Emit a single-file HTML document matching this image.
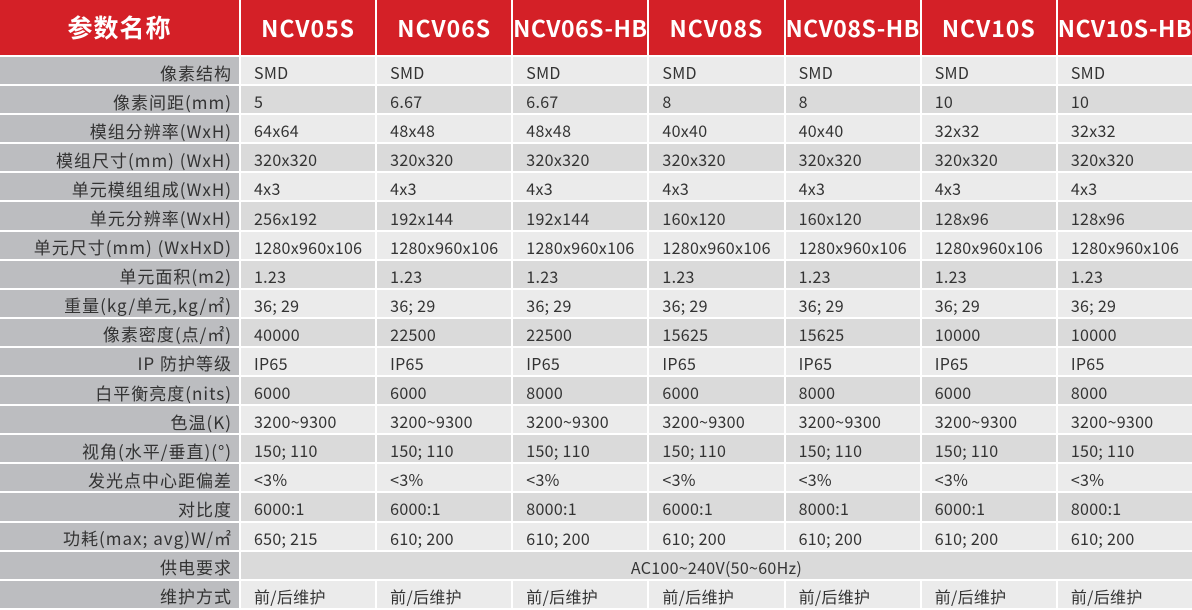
<!DOCTYPE html>
<html><head><meta charset="utf-8">
<style>
html,body{margin:0;padding:0;background:#fff;width:1192px;height:610px;overflow:hidden}
.g{display:grid;grid-template-columns:239px repeat(7,1fr);grid-template-rows:55px repeat(19,27.1px);gap:2px;width:1192px;background:#fff;font-family:"Noto Sans CJK SC","Liberation Sans",sans-serif}
.g>div{display:flex;align-items:center;white-space:nowrap;overflow:hidden;line-height:1;color:#333;font-size:16px;letter-spacing:0.3px;padding-top:3px;box-sizing:border-box}
.g>div.h{background:#d42027;color:#fff;font-size:23px;font-weight:bold;justify-content:center;letter-spacing:1px;padding-top:0}
.g>div.h.t{letter-spacing:0.5px}
.g>div.l{background:#bcbdc0;justify-content:flex-end;padding-right:7px;font-size:17px;letter-spacing:1px}
.a{background:#ebebeb;padding-left:13px}
.b{background:#dadada;padding-left:13px}
.g>div.c{grid-column:2 / 9;justify-content:center;padding-left:0}
</style></head><body>
<div class="g">
<div class="h" style="font-size:25px">参数名称</div><div class="h">NCV05S</div><div class="h">NCV06S</div><div class="h t">NCV06S-HB</div><div class="h">NCV08S</div><div class="h t">NCV08S-HB</div><div class="h">NCV10S</div><div class="h t">NCV10S-HB</div>
<div class="l">像素结构</div><div class="a">SMD</div><div class="a">SMD</div><div class="a">SMD</div><div class="a">SMD</div><div class="a">SMD</div><div class="a">SMD</div><div class="a">SMD</div>
<div class="l">像素间距(mm)</div><div class="b">5</div><div class="b">6.67</div><div class="b">6.67</div><div class="b">8</div><div class="b">8</div><div class="b">10</div><div class="b">10</div>
<div class="l">模组分辨率(WxH)</div><div class="a">64x64</div><div class="a">48x48</div><div class="a">48x48</div><div class="a">40x40</div><div class="a">40x40</div><div class="a">32x32</div><div class="a">32x32</div>
<div class="l">模组尺寸(mm) (WxH)</div><div class="b">320x320</div><div class="b">320x320</div><div class="b">320x320</div><div class="b">320x320</div><div class="b">320x320</div><div class="b">320x320</div><div class="b">320x320</div>
<div class="l">单元模组组成(WxH)</div><div class="a">4x3</div><div class="a">4x3</div><div class="a">4x3</div><div class="a">4x3</div><div class="a">4x3</div><div class="a">4x3</div><div class="a">4x3</div>
<div class="l">单元分辨率(WxH)</div><div class="b">256x192</div><div class="b">192x144</div><div class="b">192x144</div><div class="b">160x120</div><div class="b">160x120</div><div class="b">128x96</div><div class="b">128x96</div>
<div class="l">单元尺寸(mm) (WxHxD)</div><div class="a">1280x960x106</div><div class="a">1280x960x106</div><div class="a">1280x960x106</div><div class="a">1280x960x106</div><div class="a">1280x960x106</div><div class="a">1280x960x106</div><div class="a">1280x960x106</div>
<div class="l">单元面积(m2)</div><div class="b">1.23</div><div class="b">1.23</div><div class="b">1.23</div><div class="b">1.23</div><div class="b">1.23</div><div class="b">1.23</div><div class="b">1.23</div>
<div class="l">重量(kg/单元,kg/㎡)</div><div class="a">36; 29</div><div class="a">36; 29</div><div class="a">36; 29</div><div class="a">36; 29</div><div class="a">36; 29</div><div class="a">36; 29</div><div class="a">36; 29</div>
<div class="l">像素密度(点/㎡)</div><div class="b">40000</div><div class="b">22500</div><div class="b">22500</div><div class="b">15625</div><div class="b">15625</div><div class="b">10000</div><div class="b">10000</div>
<div class="l">IP 防护等级</div><div class="a">IP65</div><div class="a">IP65</div><div class="a">IP65</div><div class="a">IP65</div><div class="a">IP65</div><div class="a">IP65</div><div class="a">IP65</div>
<div class="l">白平衡亮度(nits)</div><div class="b">6000</div><div class="b">6000</div><div class="b">8000</div><div class="b">6000</div><div class="b">8000</div><div class="b">6000</div><div class="b">8000</div>
<div class="l">色温(K)</div><div class="a">3200~9300</div><div class="a">3200~9300</div><div class="a">3200~9300</div><div class="a">3200~9300</div><div class="a">3200~9300</div><div class="a">3200~9300</div><div class="a">3200~9300</div>
<div class="l">视角(水平/垂直)(°)</div><div class="b">150; 110</div><div class="b">150; 110</div><div class="b">150; 110</div><div class="b">150; 110</div><div class="b">150; 110</div><div class="b">150; 110</div><div class="b">150; 110</div>
<div class="l">发光点中心距偏差</div><div class="a">&lt;3%</div><div class="a">&lt;3%</div><div class="a">&lt;3%</div><div class="a">&lt;3%</div><div class="a">&lt;3%</div><div class="a">&lt;3%</div><div class="a">&lt;3%</div>
<div class="l">对比度</div><div class="b">6000:1</div><div class="b">6000:1</div><div class="b">8000:1</div><div class="b">6000:1</div><div class="b">8000:1</div><div class="b">6000:1</div><div class="b">8000:1</div>
<div class="l">功耗(max; avg)W/㎡</div><div class="a">650; 215</div><div class="a">610; 200</div><div class="a">610; 200</div><div class="a">610; 200</div><div class="a">610; 200</div><div class="a">610; 200</div><div class="a">610; 200</div>
<div class="l">供电要求</div><div class="b c">AC100~240V(50~60Hz)</div>
<div class="l">维护方式</div><div class="a">前/后维护</div><div class="a">前/后维护</div><div class="a">前/后维护</div><div class="a">前/后维护</div><div class="a">前/后维护</div><div class="a">前/后维护</div><div class="a">前/后维护</div>
</div>
</body></html>
